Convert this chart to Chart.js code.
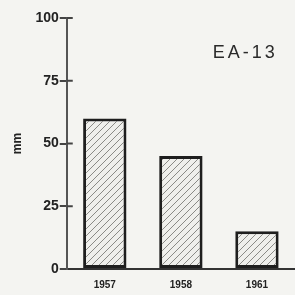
<!DOCTYPE html>
<html>
<head>
<meta charset="utf-8">
<script src="https://cdn.jsdelivr.net/npm/chart.js@4"></script>
<style>
  html, body { margin: 0; padding: 0; background: #f4f4f1; }
  #wrap { width: 295px; height: 295px; }
</style>
</head>
<body>
<div id="wrap"><canvas id="grafico"></canvas></div>
<script>
var anos = ['1957', '1958', '1961'];
var valores = [60, 45, 15];
var ticksY = [0, 25, 50, 75, 100];
var rotulo = 'EA-13';

// hachura diagonal das barras
function hachura() {
    var c = document.createElement('canvas');
    c.width = 7;
    c.height = 7;
    var g = c.getContext('2d');
    g.fillStyle = '#efefec';
    g.fillRect(0, 0, 7, 7);
    g.strokeStyle = '#8a8a86';
    g.lineWidth = 1;
    g.beginPath();
    g.moveTo(0, 7);
    g.lineTo(7, 0);
    g.moveTo(-3.5, 3.5);
    g.lineTo(3.5, -3.5);
    g.moveTo(3.5, 10.5);
    g.lineTo(10.5, 3.5);
    g.stroke();
    return g.createPattern(c, 'repeat');
}

var ctx = document.getElementById('grafico');

var textoRotulo = {
    id: 'textoRotulo',
    afterDraw: function (chart) {
        var g = chart.ctx;
        var eixoY = chart.scales.y;
        g.save();
        // tracinhos que cruzam o eixo
        g.strokeStyle = '#444';
        g.lineWidth = 2;
        eixoY.ticks.forEach(function (t) {
            if (t.value === 0) return;
            var yy = eixoY.getPixelForValue(t.value);
            g.beginPath();
            g.moveTo(eixoY.right, yy);
            g.lineTo(eixoY.right + 6, yy);
            g.stroke();
        });
        var x = chart.scales.x.getPixelForValue(1.42);
        var y = eixoY.getPixelForValue(86);
        g.fillStyle = '#2a2a2a';
        g.font = '18px "Liberation Sans", sans-serif';
        g.textBaseline = 'middle';
        g.textAlign = 'left';
        g.letterSpacing = '3px';
        g.fillText(rotulo, x, y);
        g.restore();
    }
};

new Chart(ctx, {
    type: 'bar',
    data: {
        labels: anos,
        datasets: [{
            data: valores,
            backgroundColor: hachura(),
            borderColor: '#1e1e1e',
            borderWidth: 3,
            borderSkipped: false,
            barPercentage: 0.57,
            categoryPercentage: 1
        }]
    },
    options: {
        responsive: true,
        maintainAspectRatio: false,
        animation: false,
        layout: { padding: { top: 18, right: 0, left: 10, bottom: 2 } },
        plugins: {
            legend: { display: false },
            tooltip: { enabled: false }
        },
        scales: {
            x: {
                grid: { display: false },
                border: { color: '#333', width: 2 },
                ticks: {
                    color: '#222',
                    font: { family: 'Liberation Sans', size: 10, weight: 'bold' },
                    padding: 2
                }
            },
            y: {
                min: 0,
                max: 100,
                afterBuildTicks: function (axis) {
                    axis.ticks = ticksY.map(function (v) { return { value: v }; });
                },
                border: { color: '#555', width: 2 },
                grid: {
                    drawOnChartArea: false,
                    color: '#444',
                    lineWidth: 2,
                    tickLength: 7
                },
                ticks: {
                    color: '#222',
                    font: { family: 'Liberation Sans', size: 14, weight: 'bold' },
                    padding: 1
                },
                title: {
                    display: true,
                    text: 'mm',
                    color: '#222',
                    font: { family: 'Liberation Sans', size: 12, weight: 'bold' },
                    padding: { top: 0, bottom: 10 }
                }
            }
        }
    },
    plugins: [textoRotulo]
});
</script>
</body>
</html>
